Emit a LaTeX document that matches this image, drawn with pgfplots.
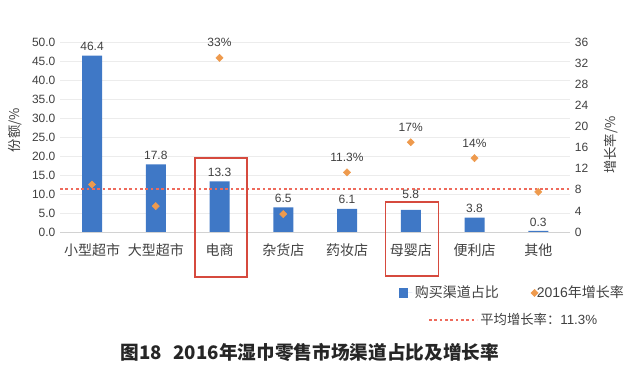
\documentclass[border=0pt]{standalone}
\usepackage{fontspec}
\setmainfont{Liberation Sans}
\newfontfamily\cjk{Noto Sans CJK SC}
\usepackage{pgfplots}
\usepackage{pgfplotstable}
\pgfplotsset{compat=1.18}
\definecolor{barblue}{HTML}{3F78C6}
\definecolor{dotorange}{HTML}{EE9A4D}
\definecolor{avgred}{HTML}{EE6A5C}
\definecolor{boxred}{HTML}{D64A3E}
\definecolor{txt}{HTML}{404040}

\pgfplotstableread{
x share dy
0 46.4 0
1 17.8 0
2 13.3 0
3 6.5 0
4 6.1 0
5 5.8 5
6 3.8 0
7 0.3 0
}\sharetable

\pgfplotstableread{
x growth lab
0 9.0 {}
1 4.9 {}
2 33 33\%
3 3.4 {}
4 11.3 11.3\%
5 17 17\%
6 14 14\%
7 7.6 {}
}\growthtable

\begin{document}
\begin{tikzpicture}[x=1pt,y=1pt]
\path[use as bounding box] (0,0) rectangle (480,277.5);
\begin{axis}[
  at={(45.1pt,103.5pt)}, anchor=south west,
  scale only axis, width=382.5pt, height=142.5pt,
  xmin=-0.5, xmax=7.5, ymin=0, ymax=50,
  axis y line*=left, axis x line*=bottom,
  y axis line style={draw=none},
  x axis line style={draw=gray!35, line width=0.6pt, -},
  major tick length=0pt,
  ytick={0,5,...,50},
  ymajorgrids, grid style={gray!15, line width=0.6pt},
  xtick={0,...,7},
  xticklabels={小型超市,大型超市,电商,杂货店,药妆店,母婴店,便利店,其他},
  tick label style={font=\fontsize{9}{10}\selectfont, text=txt},
  xticklabel style={font=\cjk\fontsize{10.5}{11}\selectfont, yshift=-5.5pt},
  yticklabel style={/pgf/number format/fixed, /pgf/number format/fixed zerofill, /pgf/number format/precision=1},
  /pgf/number format/assume math mode=true,
  clip=false,
  legend style={at={(rel axis cs:0.656,-0.321)}, anchor=west, draw=none, fill=none,
    font=\fontsize{10.5}{12}\selectfont, text=txt, legend cell align=left,
    /tikz/every even column/.append style={column sep=22pt}},
  legend columns=2,
]
\addplot[ybar, bar width=15pt, fill=barblue, draw=none,
  visualization depends on={\thisrow{dy} \as \labdy},
  nodes near coords,
  nodes near coords style={font=\fontsize{9}{10}\selectfont, text=txt, yshift=\labdy pt,
    /pgf/number format/fixed, /pgf/number format/fixed zerofill, /pgf/number format/precision=1},
  legend image code/.code={\fill[barblue] (0pt,-3.5pt) rectangle (7pt,3.5pt); \path (0pt,0pt) -- (10pt,0pt);}
] table[x=x, y=share] {\sharetable};
\addlegendentry{\cjk 购买渠道占比}
\addlegendimage{only marks, mark=square*, mark options={rotate=45}, color=dotorange, mark size=1.9pt}
\addlegendentry{\hspace{-3pt}2016{\cjk 年增长率}}
\addplot[avgred, dash pattern=on 2pt off 2pt, line width=0.9pt, forget plot]
  coordinates {(-0.5,11.3) (7.5,11.3)};
\draw[boxred, line width=1pt] (axis cs:1.617,19.47) rectangle (axis cs:2.433,-11.84);
\draw[boxred, line width=1pt] (axis cs:4.60,7.9) rectangle (axis cs:5.43,-11.6);
\node[font=\cjk\fontsize{10}{11}\selectfont, text=txt, rotate=90] at (rel axis cs:-0.088,0.537) {份额/\%};
\end{axis}
\begin{axis}[
  at={(45.1pt,103.5pt)}, anchor=south west,
  scale only axis, width=382.5pt, height=142.5pt,
  xmin=-0.5, xmax=7.5, ymin=0, ymax=36,
  axis y line*=right, axis x line=none,
  y axis line style={draw=none},
  major tick length=0pt,
  ytick={0,4,...,36},
  tick label style={font=\fontsize{9}{10}\selectfont, text=txt},
  /pgf/number format/assume math mode=true,
  clip=false,
  legend style={at={(rel axis cs:0.714,-0.463)}, anchor=west, draw=none, fill=none,
    font=\fontsize{10}{12}\selectfont, text=txt},
]
\addplot[only marks, mark=square*, mark options={rotate=45}, color=dotorange, mark size=1.9pt,
  point meta=explicit symbolic,
  nodes near coords,
  nodes near coords style={font=\fontsize{9}{10}\selectfont, text=txt, anchor=south, yshift=4.5pt},
  forget plot
] table[x=x, y=growth, meta=lab] {\growthtable};
\addlegendimage{avgred, dash pattern=on 2pt off 2pt, line width=0.9pt,
  legend image code/.code={\draw[avgred, dash pattern=on 2pt off 2pt, line width=0.9pt] (0pt,0pt) -- (36pt,0pt);}}
\addlegendentry{{\cjk 平均增长率：}11.3\%}
\node[font=\cjk\fontsize{10}{11}\selectfont, text=txt, rotate=90] at (rel axis cs:1.08,0.458) {增长率/\%};
\end{axis}
\node[font=\cjk\bfseries\fontsize{14}{16}\selectfont, text=black!85] at (232.5,13.5) {图18\hspace{0.6em}2016年湿巾零售市场渠道占比及增长率};
\end{tikzpicture}
\end{document}
